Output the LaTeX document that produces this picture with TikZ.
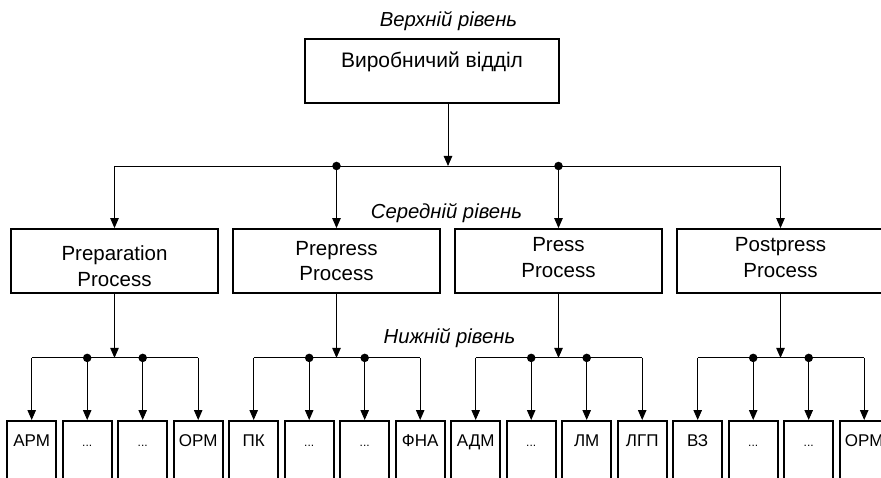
\documentclass[tikz,border=0pt]{standalone}
\usepackage{fontspec}
\setmainfont{Liberation Sans}
\usetikzlibrary{arrows.meta,calc}
\newcommand{\mydots}{{\fontsize{12}{12}\selectfont...}}
\begin{document}
\begin{tikzpicture}[x=1pt,y=-1pt,
  every node/.style={inner sep=0pt},
  frame/.style={draw,line width=1.8pt},
  conn/.style={line width=0.9pt},
  arr/.style={conn,-{Triangle[length=10pt,width=8.5pt]}},
  lvl/.style={font=\fontsize{20.3}{23}\selectfont\itshape,anchor=base},
  midtxt/.style={font=\fontsize{20.5}{25.5}\selectfont,align=center},
  bottxt/.style={font=\fontsize{17}{20}\selectfont,anchor=base},
  dot/.style={circle,fill,minimum size=8.5pt,inner sep=0pt}]
\clip (0,0) rectangle (881,478);
% level labels
\node[lvl] (lv1) at (448.5,26.5) {Верхній рівень};
\node[lvl] (lv2) at (446.5,218.5) {Середній рівень};
\node[lvl] (lv3) at (449.5,344) {Нижній рівень};
% top box
\node[frame,minimum width=254pt,minimum height=64pt] (top) at (432,71) {};
\node[font=\fontsize{21}{24}\selectfont,anchor=base] (toptxt) at (432,68) {Виробничий відділ};
% middle boxes
\foreach \k in {0,...,3}{
  \node[frame,minimum width=207pt,minimum height=64pt] (m\k) at (114.5+222*\k,261) {};
}
\node[midtxt] (mt0) at (114.5,266) {Preparation\\Process};
\node[midtxt] (mt1) at (336.5,261) {Prepress\\Process};
\node[midtxt] (mt2) at (558.5,257.5) {Press\\Process};
\node[midtxt] (mt3) at (780.5,257.5) {Postpress\\Process};
% top bus
\coordinate (tb) at (448,166);
\draw[arr] (top.south -| tb) -- (tb);
\draw[conn] (m0.north |- tb) -- (m3.north |- tb);
\foreach \k in {0,...,3}{
  \draw[arr] (m\k.north |- tb) -- (m\k.north);
}
\node[dot] (td1) at (m1.north |- tb) {};
\node[dot] (td2) at (m2.north |- tb) {};
% bottom boxes
\foreach \i in {0,...,15}{
  \node[frame,minimum width=49pt,minimum height=80pt,anchor=north] (b\i) at (31.7+55.5*\i,420) {};
}
% lower buses
\foreach \k in {0,...,3}{
  \path (m\k.south) ++(0,64) coordinate (lb\k);
  \draw[arr] (m\k.south) -- (lb\k);
  \pgfmathtruncatemacro\ia{4*\k}
  \pgfmathtruncatemacro\ib{4*\k+1}
  \pgfmathtruncatemacro\ic{4*\k+2}
  \pgfmathtruncatemacro\id{4*\k+3}
  \draw[conn] (b\ia.north |- lb\k) -- (b\id.north |- lb\k);
  \foreach \j in {\ia,\ib,\ic,\id}{
    \draw[arr] (b\j.north |- lb\k) -- (b\j.north);
  }
  \node[dot] (ld\ib) at (b\ib.north |- lb\k) {};
  \node[dot] (ld\ic) at (b\ic.north |- lb\k) {};
}
% bottom labels
\foreach \i/\t in {0/АРМ,1/\mydots,2/\mydots,3/ОРМ,4/ПК,5/\mydots,6/\mydots,7/ФНА,8/АДМ,9/\mydots,10/ЛМ,11/ЛГП,12/ВЗ,13/\mydots,14/\mydots,15/ОРМ}{
  \path (b\i.north) ++(0,26) node[bottxt] (t\i) {\t};
}
\end{tikzpicture}
\end{document}
